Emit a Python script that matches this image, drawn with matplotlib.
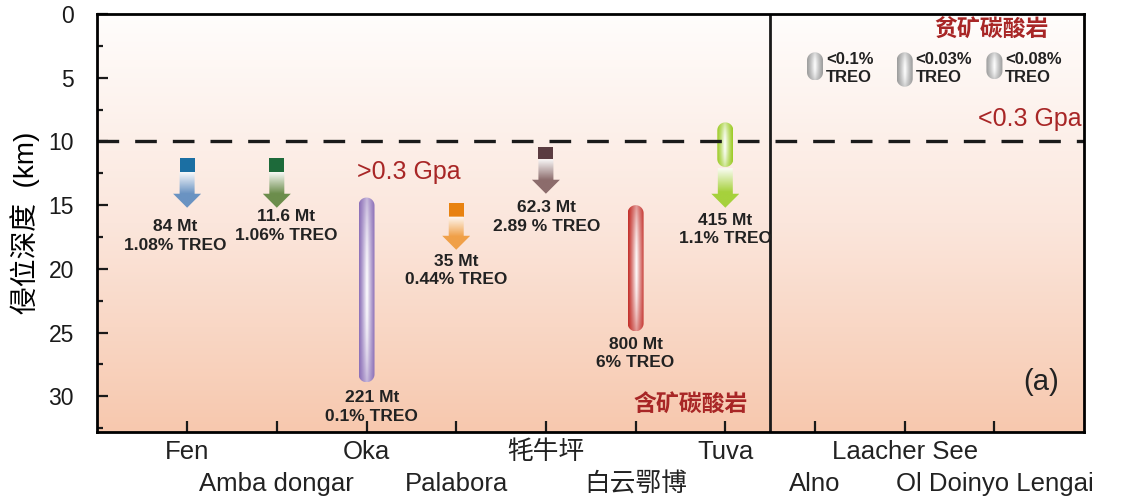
import matplotlib
matplotlib.use("Agg")
import matplotlib.pyplot as plt
import numpy as np
from matplotlib.colors import LinearSegmentedColormap, to_rgb
from matplotlib.patches import Polygon, Rectangle
from matplotlib.ticker import MultipleLocator

plt.rcParams['font.family'] = ['Liberation Sans', 'Noto Sans CJK SC']

# sites along the x axis (1..10)
sites = ["Fen", "Amba dongar", "Oka", "Palabora", "牦牛坪", "白云鄂博",
         "Tuva", "Alno", "Laacher See", "Ol Doinyo Lengai"]

# emplacement depth (km): square block + arrow deposits
block_x = [1, 2, 4, 5]
block_top = [11.3, 11.3, 14.8, 10.4]
block_bot = [12.4, 12.4, 15.9, 11.4]
block_colors = ["#1b6fa3", "#1d6a3a", "#e8820f", "#5b3c41"]

arrow_x = [1, 2, 4, 5, 7]
arrow_top = [12.4, 12.4, 15.9, 11.4, 12.1]
arrow_tip = [15.2, 15.2, 18.5, 14.1, 15.2]
arrow_colors = ["#6a93c2", "#6c8d4c", "#f0a048", "#8c6c6c", "#a6d13c"]

# depth ranges drawn as capsules
capsule_x = [3, 6, 7]
capsule_top = [14.4, 15.0, 8.5]
capsule_bot = [28.9, 24.9, 12.0]
capsule_colors = ["#8d71b8", "#c3302a", "#9ccb26"]

# barren carbonatites (right panel)
barren_x = [8, 9, 10]
barren_top = [3.0, 3.0, 3.0]
barren_bot = [5.2, 5.7, 5.1]
barren_grade = ["<0.1%", "<0.03%", "<0.08%"]

# tonnage / grade labels
label_x = [0.87, 2.10, 3.06, 4.0, 5.01, 6.0, 7.0]
label_y = [16.7, 15.9, 30.1, 19.4, 15.2, 25.9, 16.2]
tonnage = ["84 Mt", "11.6 Mt", "221 Mt", "35 Mt", "62.3 Mt", "800 Mt", "415 Mt"]
grade = ["1.08% TREO", "1.06% TREO", "0.1% TREO", "0.44% TREO",
         "2.89 % TREO", "6% TREO", "1.1% TREO"]

X_MAX, Y_MAX = 11, 32.8
RED = "#a82626"
INK = "#222222"

fig = plt.figure(figsize=(11.46, 5.04), dpi=100)
ax = fig.add_axes([0.085, 0.143, 0.861, 0.829])
ax.set_xlim(0, X_MAX)
ax.set_ylim(Y_MAX, 0)

bbox = ax.get_position()
px_x = bbox.width * fig.get_figwidth() * fig.dpi / X_MAX
px_y = bbox.height * fig.get_figheight() * fig.dpi / Y_MAX

# background gradient
bg = LinearSegmentedColormap.from_list("bg", ["#fffdfc", "#fbe6dc", "#f7c8ae"])
ax.imshow(np.linspace(0, 1, 256).reshape(-1, 1), cmap=bg, aspect="auto",
          extent=(0, X_MAX, Y_MAX, 0), zorder=0)


def capsule(xc, top, bot, color, width_px=16, z=3):
    w = width_px / 2 / px_x
    r = width_px / 2 / px_y
    t = np.linspace(0, np.pi, 40)
    top_arc = np.column_stack([xc + w * np.cos(t), top + r - r * np.sin(t)])
    bot_arc = np.column_stack([xc - w * np.cos(t), bot - r + r * np.sin(t)])
    poly = Polygon(np.vstack([top_arc, bot_arc]), closed=True, fc="none", ec="none")
    ax.add_patch(poly)
    u = np.linspace(-1, 1, 64)[None, :]
    v = np.linspace(-1, 1, 128)[:, None]
    a = (1 - np.abs(u)) ** 1.2 * (0.5 + 0.5 * (1 - v ** 2))
    rgb = np.array(to_rgb(color))
    img = rgb * (1 - a[..., None]) + a[..., None]
    im = ax.imshow(img, extent=(xc - w, xc + w, bot, top), aspect="auto",
                   zorder=z, interpolation="bilinear")
    im.set_clip_path(poly)


def arrow(xc, top, tip, color, shaft_px=15, head_px=28, head_len_px=14):
    sw = shaft_px / 2 / px_x
    hw = head_px / 2 / px_x
    hs = tip - head_len_px / px_y
    pts = [(xc - sw, top), (xc + sw, top), (xc + sw, hs), (xc + hw, hs),
           (xc, tip), (xc - hw, hs), (xc - sw, hs)]
    poly = Polygon(pts, closed=True, fc="none", ec="none")
    ax.add_patch(poly)
    v = np.linspace(0, 1, 128)[:, None]
    a = np.clip(1 - v / 0.6, 0, 1) * 0.95
    a = np.repeat(a, 2, axis=1)
    rgb = np.array(to_rgb(color))
    img = rgb * (1 - a[..., None]) + a[..., None]
    im = ax.imshow(img, extent=(xc - hw, xc + hw, tip, top), aspect="auto",
                   zorder=3, interpolation="bilinear")
    im.set_clip_path(poly)


for x, t0, t1, c in zip(block_x, block_top, block_bot, block_colors):
    w = 15 / px_x
    ax.add_patch(Rectangle((x - w / 2, t0), w, t1 - t0, color=c, zorder=3, lw=0))

for x, t0, tip, c in zip(arrow_x, arrow_top, arrow_tip, arrow_colors):
    arrow(x, t0, tip, c)

for x, t0, t1, c in zip(capsule_x, capsule_top, capsule_bot, capsule_colors):
    capsule(x, t0, t1, c)

for x, t0, t1, g in zip(barren_x, barren_top, barren_bot, barren_grade):
    capsule(x, t0, t1, "#9c9c9c")
    ax.text(x + 0.12, t0 + 0.55, g, fontsize=12, fontweight="bold", color=INK,
            ha="left", va="center", zorder=5)
    ax.text(x + 0.12, t0 + 2.0, "TREO", fontsize=12, fontweight="bold", color=INK,
            ha="left", va="center", zorder=5)

for x, y, tn, gr in zip(label_x, label_y, tonnage, grade):
    ax.text(x, y, tn, fontsize=12.5, fontweight="bold", color=INK,
            ha="center", va="center", zorder=5)
    ax.text(x, y + 1.45, gr, fontsize=12.5, fontweight="bold", color=INK,
            ha="center", va="center", zorder=5)

# 0.3 GPa boundary and panel separator
ax.axhline(10, color="#1a1a1a", lw=2.4, dashes=(6.5, 4.8), zorder=4)
ax.axvline(7.5, color="#1a1a1a", lw=2, zorder=4)

ax.text(3.47, 12.4, ">0.3 Gpa", fontsize=18, color=RED, ha="center", va="center")
ax.text(10.97, 8.2, "<0.3 Gpa", fontsize=18, color=RED, ha="right", va="center")
ax.text(9.97, 1.25, "贫矿碳酸岩", fontsize=16.5, fontweight="bold", color=RED,
        ha="center", va="center")
ax.text(6.61, 30.7, "含矿碳酸岩", fontsize=16.5, fontweight="bold", color=RED,
        ha="center", va="center")
ax.text(10.52, 28.9, "(a)", fontsize=21, color=INK, ha="center", va="center")

# axes styling
for s in ax.spines.values():
    s.set_linewidth(2)
    s.set_zorder(6)

ax.yaxis.set_major_locator(MultipleLocator(5))
ax.yaxis.set_minor_locator(MultipleLocator(2.5))
ax.set_xticks(range(1, len(sites) + 1))
ax.set_xticklabels([])

# site names in two staggered rows below the axis
xlab = ax.get_xaxis_transform()
for i, name in enumerate(sites):
    row_y = -0.048 if i % 2 == 0 else -0.125
    ax.text(i + 1, row_y, name, transform=xlab, fontsize=18.5, color=INK,
            ha="center", va="center", clip_on=False)

ax.tick_params(axis="both", which="both", direction="in", width=1.6, colors="#1a1a1a")
ax.tick_params(axis="y", which="major", length=8, labelsize=16.5, pad=17)
ax.tick_params(axis="y", which="minor", length=4)
ax.tick_params(axis="x", which="major", length=8)
ax.set_ylabel("侵位深度  (km)", fontsize=20, labelpad=6)

fig.savefig("out.png", dpi=100)
